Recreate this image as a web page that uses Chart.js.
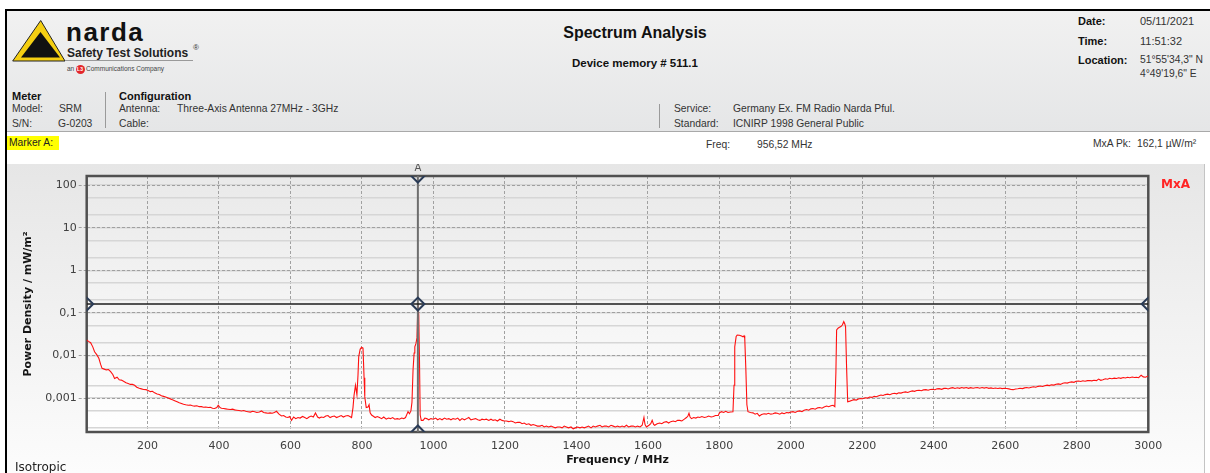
<!DOCTYPE html>
<html><head><meta charset="utf-8">
<script src="https://cdn.jsdelivr.net/npm/chart.js@4.4.0/dist/chart.umd.min.js"></script>
<style>
html,body{margin:0;padding:0;width:1210px;height:473px;overflow:hidden;background:#fff;}
#page{position:relative;width:1210px;height:473px;font-family:"Liberation Sans",Arial,sans-serif;color:#333;}
.a{position:absolute;white-space:nowrap;}
.t{font-size:10.3px;line-height:12px;color:#333;}
.b{font-weight:bold;font-size:11px;line-height:13px;color:#111;}
.r{font-size:11px;line-height:13px;color:#333;}
</style>
</head><body>
<div id="page">
  <div class="a" style="left:5px;top:9px;width:1210px;height:470px;border-left:2px solid #000;border-top:2px solid #000;"></div>
  <div class="a" style="left:7px;top:11px;width:1203px;height:120px;background:linear-gradient(#f1f1f1,#e5e6e7);border-bottom:1px solid #a9a9a9;"></div>
  <div class="a" style="left:7px;top:132px;width:1203px;height:32px;background:#fff;"></div>
  <div class="a" style="left:7px;top:164px;width:1197px;height:309px;background:linear-gradient(#e6e6e6,#fcfcfc);border-right:1px solid #c4c4c4;"></div>

  <svg class="a" style="left:0;top:0" width="80" height="70">
    <polygon points="12.7,61 40.7,20.5 65,61" fill="#f5cf12" stroke="#222" stroke-width="1"/>
    <polygon points="40.5,32 21,57.5 60,57.5" fill="#111"/>
  </svg>
  <div class="a" style="left:66px;top:19px;font-size:26px;line-height:27px;font-weight:bold;letter-spacing:1.5px;color:#111;">narda</div>
  <div class="a" style="left:67px;top:45.5px;font-size:12px;line-height:14px;font-weight:bold;color:#222;">Safety Test Solutions</div>
  <div class="a" style="left:193px;top:43px;font-size:8px;line-height:9px;color:#333;">®</div>
  <div class="a" style="left:65px;top:60px;width:128px;height:1px;background:#9a9a9a;"></div>
  <div class="a" style="left:67px;top:65px;font-size:6.5px;line-height:8px;color:#444;">an</div>
  <div class="a" style="left:75.5px;top:64.5px;width:9px;height:9px;border-radius:50%;background:#e3262b;color:#fff;font-size:5px;line-height:9px;text-align:center;font-weight:bold;">L3</div>
  <div class="a" style="left:86px;top:65px;font-size:6.5px;line-height:8px;color:#444;">Communications Company</div>

  <div class="a" style="left:435px;top:24px;width:400px;text-align:center;font-size:16px;line-height:18px;font-weight:bold;color:#111;">Spectrum Analysis</div>
  <div class="a" style="left:435px;top:56px;width:400px;text-align:center;font-size:11.5px;line-height:14px;font-weight:bold;color:#111;">Device memory # 511.1</div>

  <div class="a b" style="left:12px;top:89.5px;">Meter</div>
  <div class="a t" style="left:12px;top:103px;">Model:</div>
  <div class="a t" style="left:59px;top:103px;">SRM</div>
  <div class="a t" style="left:12px;top:118px;">S/N:</div>
  <div class="a t" style="left:58px;top:118px;">G-0203</div>
  <div class="a" style="left:105px;top:92px;width:1px;height:36px;background:#9a9a9a;"></div>
  <div class="a b" style="left:119px;top:89.5px;">Configuration</div>
  <div class="a t" style="left:119px;top:103px;">Antenna:</div>
  <div class="a t" style="left:177px;top:103px;">Three-Axis Antenna 27MHz - 3GHz</div>
  <div class="a t" style="left:119px;top:118px;">Cable:</div>
  <div class="a" style="left:659px;top:104px;width:1px;height:24px;background:#9a9a9a;"></div>
  <div class="a t" style="left:674px;top:103px;">Service:</div>
  <div class="a t" style="left:733px;top:103px;">Germany Ex. FM Radio Narda Pful.</div>
  <div class="a t" style="left:674px;top:118px;">Standard:</div>
  <div class="a t" style="left:733px;top:118px;">ICNIRP 1998 General Public</div>

  <div class="a b" style="left:1078px;top:15px;">Date:</div>
  <div class="a r" style="left:1140px;top:15px;">05/11/2021</div>
  <div class="a b" style="left:1078px;top:35px;">Time:</div>
  <div class="a r" style="left:1140px;top:35px;">11:51:32</div>
  <div class="a b" style="left:1078px;top:53.5px;">Location:</div>
  <div class="a t" style="left:1140px;top:54px;">51°55'34,3" N</div>
  <div class="a t" style="left:1140px;top:68px;">4°49'19,6" E</div>

  <div class="a" style="left:7px;top:136px;width:52px;height:14px;background:#ffff00;"></div>
  <div class="a t" style="left:9px;top:137px;color:#222;">Marker A:</div>
  <div class="a t" style="left:706px;top:139px;">Freq:</div>
  <div class="a t" style="left:757px;top:139px;">956,52 MHz</div>
  <div class="a t" style="left:1093px;top:138px;">MxA Pk:</div>
  <div class="a t" style="left:1137px;top:138px;">162,1 µW/m²</div>

  <canvas id="c" class="a" style="left:7px;top:164px;" width="1198" height="309"></canvas>
  <div class="a" style="left:1161px;top:177px;font-family:'DejaVu Sans';font-weight:bold;font-size:12px;line-height:15px;color:#ff2424;">MxA</div>
  <div class="a" style="left:15px;top:460px;font-family:'DejaVu Sans';font-size:12px;line-height:14px;color:#222;">Isotropic</div>
</div>
<script>
// ---- data ----
const freqMHz = [30,35,41,47,52,58,64,69,73,79,85,91,97,103,108,115,121,127,133,140,146,152,158,164,170,177,183,189,196,202,208,214,220,227,233,239,245,251,258,264,270,276,283,289,295,301,307,314,320,326,332,338,345,351,357,363,370,376,382,388,394,398,403,407,413,419,425,432,438,444,450,456,463,469,475,481,488,494,500,506,513,519,525,531,537,543,549,555,561,568,575,581,587,593,598,603,609,615,621,627,634,640,646,652,658,664,670,676,681,686,693,699,705,711,717,723,729,736,742,748,754,761,766,771,775,778,782,786,789,791,795,799,803,806,808,812,817,820,823,827,831,837,843,849,855,861,868,874,880,886,892,899,905,911,917,922,926,929,933,937,940,943,946,948,951,954,956.52,959,961,963,966,971,976,981,987,993,1000,1006,1012,1018,1024,1031,1037,1043,1049,1055,1062,1068,1074,1080,1087,1093,1099,1105,1111,1118,1124,1130,1136,1142,1148,1155,1161,1167,1173,1179,1186,1192,1198,1204,1211,1217,1223,1229,1236,1242,1248,1254,1260,1267,1273,1279,1285,1291,1298,1304,1310,1316,1322,1329,1335,1341,1347,1354,1360,1366,1372,1378,1385,1391,1397,1403,1410,1416,1422,1428,1434,1441,1447,1453,1459,1466,1472,1478,1484,1490,1497,1503,1509,1515,1522,1528,1534,1540,1546,1553,1559,1565,1571,1578,1584,1589,1592,1596,1603,1608,1612,1616,1619,1626,1633,1639,1645,1652,1658,1664,1671,1677,1683,1689,1695,1702,1708,1712,1715,1718,1722,1728,1734,1740,1745,1751,1758,1764,1770,1777,1783,1789,1797,1800,1806,1812,1818,1824,1831,1838,1841,1843,1847,1850,1856,1862,1866,1869,1871,1874,1877,1880,1887,1894,1900,1906,1912,1918,1925,1931,1937,1944,1950,1956,1962,1969,1975,1981,1988,1994,2000,2006,2012,2019,2025,2031,2037,2044,2050,2056,2062,2068,2075,2081,2087,2093,2100,2106,2112,2118,2123,2126,2128,2132,2136,2140,2144,2148,2151,2153,2156,2159,2165,2170,2176,2183,2189,2195,2201,2208,2214,2220,2227,2233,2239,2246,2252,2258,2264,2271,2277,2283,2290,2296,2302,2308,2315,2321,2327,2334,2340,2346,2352,2359,2365,2371,2378,2384,2390,2396,2403,2409,2415,2422,2428,2434,2440,2447,2453,2459,2466,2472,2478,2484,2491,2497,2503,2510,2516,2522,2528,2535,2541,2547,2554,2560,2566,2572,2579,2585,2591,2598,2604,2610,2616,2622,2629,2635,2641,2648,2654,2660,2666,2673,2679,2685,2692,2698,2704,2710,2717,2723,2729,2736,2742,2748,2754,2761,2767,2773,2780,2786,2792,2798,2805,2811,2817,2823,2830,2836,2842,2848,2855,2861,2867,2873,2880,2886,2892,2898,2905,2911,2917,2923,2930,2936,2942,2948,2955,2961,2967,2973,2980,2986,2992,3000];
const powerDensity = [0.0232,0.0215,0.020,0.016,0.0123,0.0105,0.0086,0.0062,0.0050,0.0048,0.0046,0.0047,0.0042,0.0036,0.0029,0.0031,0.0027,0.00265,0.0025,0.0023,0.0022,0.0021,0.0021,0.0020,0.0018,0.0017,0.00165,0.0016,0.00158,0.0015,0.00142,0.00145,0.00133,0.00125,0.00122,0.00114,0.0011,0.00106,0.00101,0.00096,0.00091,0.00087,0.00082,0.00078,0.00075,0.00072,0.0007,0.00068,0.00069,0.00066,0.00065,0.00066,0.00063,0.00063,0.00061,0.00062,0.0006,0.00061,0.00058,0.00057,0.0006,0.00068,0.0006,0.00058,0.00057,0.00056,0.00055,0.00054,0.00055,0.00053,0.00052,0.00051,0.0005,0.00051,0.00049,0.00048,0.00047,0.00049,0.00048,0.00046,0.00047,0.0005,0.00046,0.00045,0.00044,0.00045,0.00044,0.00046,0.00049,0.00042,0.00038,0.00039,0.00036,0.00035,0.00037,0.0003,0.00036,0.00033,0.00035,0.00034,0.00037,0.00035,0.00033,0.00036,0.00038,0.00036,0.00045,0.00036,0.00034,0.00036,0.00035,0.00038,0.00039,0.00035,0.00037,0.00038,0.00035,0.00037,0.00039,0.00036,0.00038,0.00039,0.00037,0.00035,0.0006,0.00118,0.0020,0.0012,0.0035,0.0094,0.0140,0.0156,0.0150,0.003,0.00107,0.0006,0.00062,0.0007,0.00045,0.0004,0.00038,0.00035,0.00037,0.00035,0.00033,0.00036,0.00032,0.00034,0.00033,0.00035,0.00032,0.00033,0.00032,0.00034,0.00033,0.00035,0.00042,0.00048,0.00043,0.0005,0.0008,0.0046,0.0115,0.016,0.019,0.026,0.1621,0.09,0.008,0.0004,0.0003,0.0003,0.00034,0.00033,0.00031,0.00033,0.00032,0.00034,0.00031,0.00033,0.00031,0.00034,0.00032,0.00033,0.00031,0.00033,0.00032,0.00034,0.0003,0.00033,0.00031,0.00033,0.00035,0.00031,0.00032,0.00033,0.00031,0.0003,0.00032,0.00031,0.00032,0.0003,0.00032,0.0003,0.00031,0.00029,0.00032,0.0003,0.00029,0.00029,0.00028,0.00029,0.00028,0.00026,0.00027,0.00027,0.00025,0.00026,0.00024,0.00025,0.00023,0.00024,0.00023,0.00022,0.00022,0.00023,0.00021,0.00022,0.00021,0.00022,0.00021,0.0002,0.00021,0.00021,0.0002,0.00022,0.00021,0.0002,0.00021,0.00019,0.0002,0.00021,0.0002,0.00021,0.0002,0.00021,0.00022,0.0002,0.00022,0.00021,0.00022,0.00023,0.00021,0.00022,0.00022,0.00021,0.00023,0.00022,0.00021,0.00022,0.00021,0.00022,0.00021,0.00023,0.00021,0.00022,0.00022,0.00021,0.00022,0.00021,0.00023,0.00035,0.00024,0.00021,0.00023,0.00025,0.0003,0.00024,0.00023,0.00025,0.00026,0.00025,0.00027,0.00028,0.00026,0.00028,0.00029,0.00028,0.0003,0.0003,0.00029,0.00032,0.00035,0.00038,0.00044,0.00036,0.00033,0.00035,0.00034,0.00036,0.00035,0.00037,0.00035,0.00036,0.00038,0.00036,0.00037,0.00039,0.00039,0.00045,0.00048,0.00046,0.00049,0.00046,0.00047,0.00048,0.002,0.016,0.028,0.0304,0.030,0.0288,0.0275,0.029,0.0253,0.005,0.0007,0.00048,0.00046,0.00045,0.00042,0.00044,0.00038,0.00041,0.00043,0.00042,0.00044,0.00042,0.00043,0.00045,0.00044,0.00042,0.00045,0.00043,0.00046,0.00045,0.00047,0.00048,0.00046,0.00049,0.0005,0.00048,0.00052,0.00054,0.00052,0.00056,0.00057,0.00055,0.00059,0.0006,0.00058,0.00062,0.00065,0.00063,0.00066,0.00068,0.00063,0.004,0.0398,0.044,0.046,0.048,0.052,0.0625,0.055,0.048,0.005,0.00082,0.00085,0.00088,0.00092,0.0009,0.00095,0.00098,0.00097,0.00102,0.001,0.00106,0.00104,0.0011,0.00108,0.00114,0.00118,0.00115,0.00121,0.00124,0.0012,0.00127,0.0013,0.00126,0.00133,0.00131,0.00137,0.0014,0.00136,0.00143,0.00148,0.00144,0.00151,0.00153,0.00149,0.00156,0.00158,0.00153,0.0016,0.00162,0.00157,0.00165,0.00167,0.00161,0.00169,0.0017,0.00164,0.00172,0.00176,0.00168,0.00175,0.0017,0.00177,0.00172,0.00178,0.0017,0.00176,0.0017,0.00175,0.00178,0.00171,0.00177,0.00172,0.00178,0.0017,0.00174,0.00169,0.00173,0.00168,0.00172,0.00167,0.00171,0.00168,0.00165,0.0016,0.00158,0.00164,0.00166,0.0017,0.00167,0.00174,0.00178,0.00173,0.0018,0.00185,0.0018,0.00189,0.00192,0.00188,0.00196,0.00202,0.00197,0.00205,0.00202,0.00211,0.00216,0.0021,0.00224,0.0023,0.00225,0.00236,0.0024,0.00235,0.00248,0.00252,0.00246,0.00255,0.0025,0.00258,0.0026,0.00254,0.00262,0.00258,0.0028,0.00262,0.0027,0.00284,0.00278,0.00292,0.00286,0.00295,0.0029,0.003,0.00292,0.00305,0.00298,0.0031,0.00302,0.00312,0.00305,0.00308,0.00302,0.00345,0.00315,0.0031,0.0033];

const xTickValues = [200,400,600,800,1000,1200,1400,1600,1800,2000,2200,2400,2600,2800,3000];
const yTickValues = [100,10,1,0.1,0.01,0.001];
const yTickLabels = ["100","10","1","0,1","0,01","0,001"];
const yMinorValues = [100,50,20,10,5,2,1,0.5,0.2,0.1,0.05,0.02,0.01,0.005,0.002,0.001,0.0005,0.0002];
const xMin = 30, xMax = 3000, yMin = 0.00016, yMax = 165;
const markerFreq = 956.52;   // MHz
const markerPeak = 0.1621;   // mW/m²

// ---- chart ----
const trace = freqMHz.map((f, i) => ({x: f, y: powerDensity[i]}));

const plotBg = {
  id: 'plotBg',
  beforeDraw(chart) {
    const {ctx, chartArea: a} = chart;
    const g = ctx.createLinearGradient(0, a.top, 0, a.bottom);
    g.addColorStop(0, '#e9e9e9');
    g.addColorStop(1, '#ffffff');
    ctx.save(); ctx.fillStyle = g; ctx.fillRect(a.left, a.top, a.right - a.left, a.bottom - a.top); ctx.restore();
  },
  beforeDatasetsDraw(chart) {
    const {ctx, chartArea: a} = chart;
    ctx.save(); ctx.strokeStyle = '#505050'; ctx.lineWidth = 2.5;
    ctx.strokeRect(a.left, a.top, a.right - a.left, a.bottom - a.top); ctx.restore();
  },
  afterDraw(chart) {
    const {ctx, chartArea: a} = chart;
    const x = chart.scales.x.getPixelForValue(markerFreq);
    ctx.save(); ctx.fillStyle = '#555'; ctx.font = '10px "DejaVu Sans"';
    ctx.textAlign = 'center'; ctx.textBaseline = 'middle';
    ctx.fillText('A', x, a.top - 8); ctx.restore();
  }
};

new Chart(document.getElementById('c'), {
  type: 'line',
  data: {datasets: [
    {label: 'MxA', data: trace, yAxisID: 'y', borderColor: '#ff1010', borderWidth: 1.1, pointRadius: 0, tension: 0, order: 4},
    {label: 'marker A', data: [{x: markerFreq, y: yMin}, {x: markerFreq, y: yMax}], yAxisID: 'y', borderColor: '#6e6e6e', borderWidth: 2, pointRadius: 0, order: 3},
    {label: 'marker level', data: [{x: xMin, y: markerPeak}, {x: xMax, y: markerPeak}], yAxisID: 'y', borderColor: '#1c1c1c', borderWidth: 1.5, pointRadius: 0, order: 2},
    {label: 'marker handles', data: [{x: markerFreq, y: markerPeak}, {x: markerFreq, y: yMax}, {x: markerFreq, y: yMin}, {x: xMin, y: markerPeak}, {x: xMax, y: markerPeak}],
     yAxisID: 'y', showLine: false, pointStyle: 'rectRot', pointRadius: 6.5, pointBorderColor: '#2a3b56', pointBorderWidth: 2,
     pointBackgroundColor: 'rgba(0,0,0,0)', clip: 0, order: 1}
  ]},
  options: {
    responsive: false, animation: false, devicePixelRatio: 1,
    layout: {padding: {top: 12, right: 56.7, left: 0, bottom: 0}},
    plugins: {legend: {display: false}, tooltip: {enabled: false}},
    scales: {
      x: {
        type: 'linear', min: xMin, max: xMax,
        afterBuildTicks: s => { s.ticks = xTickValues.map(v => ({value: v})); },
        afterFit: s => { s.height = 41; },
        grid: {color: '#a0a0a0', lineWidth: 1, drawTicks: false},
        border: {display: false, dash: [3, 2]},
        ticks: {padding: 8, color: '#404040', font: {family: 'DejaVu Sans', size: 11}, maxRotation: 0, autoSkip: false, callback: v => String(v)},
        title: {display: true, text: 'Frequency / MHz', color: '#151515', font: {family: 'DejaVu Sans', size: 11, weight: 'bold'}, padding: {top: 0, bottom: 6.4}}
      },
      yMinor: {
        type: 'logarithmic', axis: 'y', position: 'left', min: yMin, max: yMax,
        afterBuildTicks: s => { s.ticks = yMinorValues.map(v => ({value: v})); },
        afterFit: s => { s.width = 0; },
        grid: {color: '#d6d6d6', lineWidth: 1.6, drawTicks: false},
        border: {display: false},
        ticks: {display: false}
      },
      y: {
        type: 'logarithmic', position: 'left', min: yMin, max: yMax,
        afterBuildTicks: s => { s.ticks = yTickValues.map(v => ({value: v})); },
        afterFit: s => { s.width = 79.7; },
        grid: {color: '#a0a0a0', lineWidth: 1, drawTicks: true, tickLength: 8, tickBorderDash: [3, 2]},
        border: {display: false, dash: [3, 2]},
        ticks: {padding: 2, color: '#404040', font: {family: 'DejaVu Sans', size: 11}, autoSkip: false, callback: (v, i) => yTickLabels[i]},
        title: {display: true, text: 'Power Density / mW/m²', color: '#151515', font: {family: 'DejaVu Sans', size: 11, weight: 'bold'}, padding: {top: 14.4, bottom: 0}}
      }
    }
  },
  plugins: [plotBg]
});
</script>
</body></html>
